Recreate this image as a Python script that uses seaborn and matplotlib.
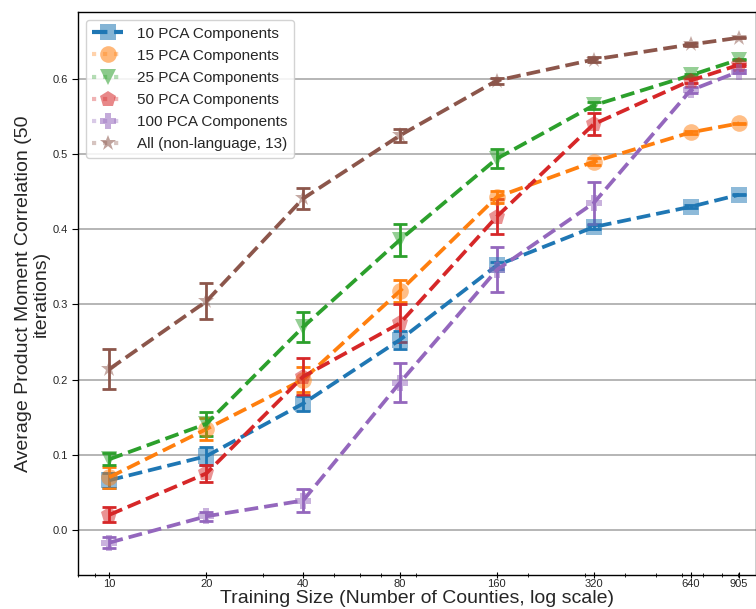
import numpy as np
import pandas as pd
import seaborn as sns
import matplotlib.pyplot as plt
from matplotlib.lines import Line2D

# training sizes (number of counties)
sizes = [10, 20, 40, 80, 160, 320, 640, 905]
size_labels = ["10", "20", "40", "80", "160", "320", "640", "905"]

series_names = [
    "10 PCA Components",
    "15 PCA Components",
    "25 PCA Components",
    "50 PCA Components",
    "100 PCA Components",
    "All (non-language, 13)",
]

# mean correlation for each series
pca10 = [0.066, 0.098, 0.168, 0.253, 0.352, 0.403, 0.430, 0.446]
pca15 = [0.070, 0.134, 0.200, 0.318, 0.443, 0.490, 0.529, 0.541]
pca25 = [0.094, 0.141, 0.270, 0.386, 0.494, 0.565, 0.605, 0.626]
pca50 = [0.020, 0.075, 0.204, 0.275, 0.417, 0.540, 0.598, 0.619]
pca100 = [-0.017, 0.018, 0.039, 0.196, 0.346, 0.435, 0.585, 0.610]
allfeat = [0.214, 0.304, 0.441, 0.525, 0.598, 0.626, 0.646, 0.655]

# error bar half widths
err10 = [0.010, 0.012, 0.010, 0.012, 0.005, 0.003, 0.002, 0.001]
err15 = [0.014, 0.015, 0.017, 0.015, 0.008, 0.005, 0.002, 0.001]
err25 = [0.008, 0.016, 0.020, 0.021, 0.013, 0.005, 0.002, 0.001]
err50 = [0.010, 0.011, 0.025, 0.025, 0.023, 0.015, 0.003, 0.001]
err100 = [0.007, 0.006, 0.015, 0.026, 0.030, 0.028, 0.004, 0.002]
errall = [0.027, 0.024, 0.014, 0.009, 0.004, 0.003, 0.002, 0.001]

means = [pca10, pca15, pca25, pca50, pca100, allfeat]
errs = [err10, err15, err25, err50, err100, errall]
marker_list = ["s", "o", "v", "p", "P", "*"]

rows = []
for name, vals in zip(series_names, means):
    for s, v in zip(sizes, vals):
        rows.append({"size": s, "corr": v, "series": name})
df = pd.DataFrame(rows)

sns.set_style("white")
plt.rcParams["font.family"] = ["Liberation Sans", "DejaVu Sans"]
palette = sns.color_palette("tab10", 6)

fig = plt.figure(figsize=(7.56, 6.09), dpi=100)
ax = fig.add_axes([0.103, 0.056, 0.897, 0.924])

ax.set_xscale("log")
for i, name in enumerate(series_names):
    ax.errorbar(sizes, means[i], yerr=errs[i], fmt="none", ecolor=palette[i],
                elinewidth=2, capsize=5, capthick=2, zorder=3)

sns.lineplot(data=df, x="size", y="corr", hue="series", style="series",
             hue_order=series_names, style_order=series_names,
             palette=palette, markers=dict(zip(series_names, marker_list)),
             dashes={n: (3.7, 1.6) for n in series_names},
             markersize=12, linewidth=2.7, markeredgewidth=0,
             ax=ax, legend=False, zorder=4)

# marker transparency only, lines stay solid colour
for line in ax.get_lines():
    c = line.get_color()
    line.set_markerfacecolor((*plt.matplotlib.colors.to_rgb(c), 0.5))

ax.set_xlim(7.98, 1022)
ax.set_ylim(-0.06, 0.689)
ax.set_xticks(sizes)
ax.set_xticklabels(size_labels, fontsize=8)
ax.set_yticks([0.0, 0.1, 0.2, 0.3, 0.4, 0.5, 0.6])
ax.set_yticklabels(["0.0", "0.1", "0.2", "0.3", "0.4", "0.5", "0.6"], fontsize=8)
ax.tick_params(axis="y", which="major", direction="out", length=4, width=0.8,
               left=True, color="black", pad=3)
ax.tick_params(axis="x", which="major", direction="inout", length=4, width=0.8,
               bottom=True, color="black", pad=1)
ax.tick_params(axis="x", which="minor", direction="inout", length=3, width=0.6,
               bottom=True, color="black")
ax.xaxis.set_minor_formatter(plt.NullFormatter())
ax.yaxis.grid(True, color="#b0b0b0", linewidth=1.3)
ax.set_axisbelow(True)
for sp in ax.spines.values():
    sp.set_color("black")
    sp.set_linewidth(1.0)

ax.set_xlabel("Training Size (Number of Counties, log scale)", fontsize=14, labelpad=1)
ax.set_ylabel("Average Product Moment Correlation (50\niterations)", fontsize=14,
              labelpad=2, linespacing=1.1)

handles = []
for i, name in enumerate(series_names):
    rgb = plt.matplotlib.colors.to_rgb(palette[i])
    if i == 0:
        h = Line2D([], [], color=rgb, linestyle="--", linewidth=3,
                   marker=marker_list[i], markersize=12,
                   markerfacecolor=(*rgb, 0.55), markeredgewidth=0)
    else:
        h = Line2D([], [], color=(*rgb, 0.35), linestyle=":", linewidth=3,
                   marker=marker_list[i], markersize=12,
                   markerfacecolor=(*rgb, 0.55), markeredgewidth=0)
    handles.append(h)
ax.legend(handles, series_names, loc="upper left", fontsize=11,
          frameon=True, framealpha=0.85, edgecolor="#cccccc",
          borderpad=0.45, labelspacing=0.53, handlelength=2.0,
          handletextpad=0.9, borderaxespad=0.5)

fig.savefig("out.png", dpi=100)
